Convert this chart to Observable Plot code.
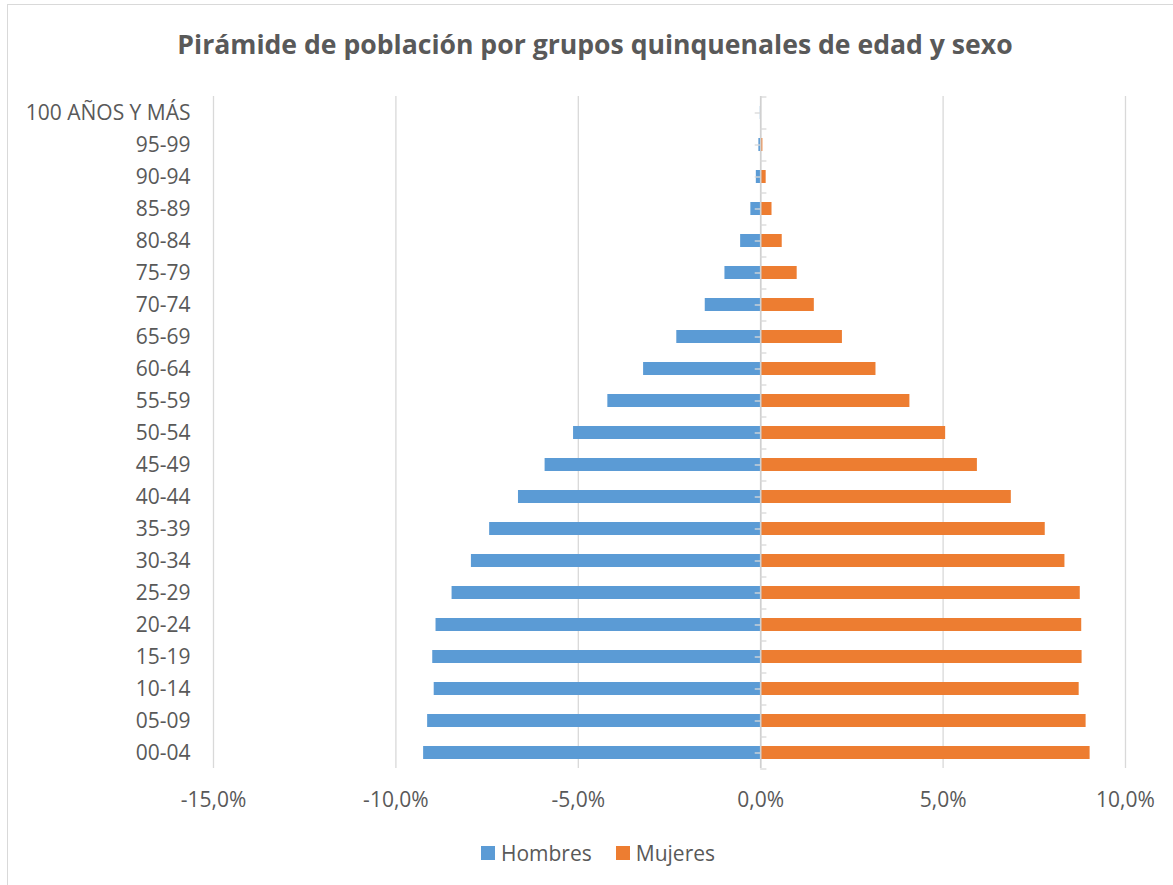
<!DOCTYPE html>
<html>
<head>
<meta charset="utf-8">
<script src="https://cdn.jsdelivr.net/npm/d3@7"></script>
<script src="https://cdn.jsdelivr.net/npm/@observablehq/plot@0.6"></script>
<style>
  html, body { margin: 0; padding: 0; background: #fff; overflow: hidden; }
  #wrap { position: relative; width: 1173px; height: 885px; font-family: "Open Sans", sans-serif; color: #595959; }
  #border { position: absolute; left: 7px; top: 4px; width: 1200px; height: 920px; border: 1px solid #D9D9D9; box-sizing: border-box; }
  #title { position: absolute; left: 0; width: 1190px; top: 31px; text-align: center; font-weight: 700; font-size: 26.6px; line-height: 26px; white-space: nowrap; }
  #chart { position: absolute; left: 0; top: 80px; }
  #legend { position: absolute; left: 0; width: 1196px; top: 841px; display: flex; justify-content: center; align-items: center; font-size: 21px; line-height: 24px; }
  .item { display: flex; align-items: center; margin: 0 12px; }
  .sw { width: 14px; height: 14px; margin-right: 6px; }
</style>
</head>
<body>
<div id="wrap">
  <div id="border"></div>
  <div id="title">Pirámide de población por grupos quinquenales de edad y sexo</div>
  <div id="chart"></div>
  <div id="legend"></div>
</div>
<script>
const ages = ["100 AÑOS Y MÁS","95-99","90-94","85-89","80-84","75-79","70-74","65-69","60-64","55-59","50-54","45-49","40-44","35-39","30-34","25-29","20-24","15-19","10-14","05-09","00-04"];
const hombres = [0.01, 0.05, 0.12, 0.27, 0.55, 0.98, 1.52, 2.30, 3.21, 4.19, 5.13, 5.91, 6.64, 7.43, 7.93, 8.46, 8.90, 8.99, 8.95, 9.13, 9.24];
const mujeres = [0.01, 0.06, 0.15, 0.31, 0.59, 1.00, 1.47, 2.24, 3.16, 4.09, 5.07, 5.94, 6.87, 7.80, 8.34, 8.76, 8.80, 8.81, 8.73, 8.92, 9.03];
const xTicks = [-15, -10, -5, 0, 5, 10];
const series = ["Hombres", "Mujeres"];
const colors = ["#5B9BD5", "#ED7D31"];

const data = ages.flatMap((a, i) => [
  {age: a, sexo: "Hombres", v: -hombres[i]},
  {age: a, sexo: "Mujeres", v: mujeres[i]}
]);

const fmt = d => d.toFixed(1).replace(".", ",") + "%";

const chart = Plot.plot({
  width: 1173,
  height: 740,
  marginTop: 16,
  marginBottom: 52,
  marginLeft: 213,
  marginRight: 48,
  style: {fontFamily: "Open Sans", fontSize: "21px", color: "#595959", background: "transparent"},
  x: {domain: [-15, 10], ticks: xTicks, label: null},
  y: {domain: ages, paddingInner: 0.6, paddingOuter: 0.3, label: null},
  color: {domain: series, range: colors},
  marks: [
    Plot.gridX(xTicks, {stroke: "#D9D9D9", strokeOpacity: 1, strokeWidth: 1.3}),
    Plot.barX(data, {x1: 0, x2: "v", y: "age", fill: "sexo"}),
    Plot.ruleX([0], {stroke: "#D0D0D0", strokeWidth: 1.6}),
    Plot.ruleY(ages, {y: d => d, x1: 0, x2: 0.17, dy: -16, stroke: "#D9D9D9", strokeWidth: 1.3}),
    Plot.ruleY(ages.slice(-1), {y: d => d, x1: 0, x2: 0.17, dy: 16, stroke: "#D9D9D9", strokeWidth: 1.3}),
    Plot.ruleY(ages, {y: d => d, x1: -0.15, x2: 0, stroke: "#D9D9D9", strokeWidth: 1.3}),
    Plot.axisX({ticks: xTicks, tickSize: 0, tickPadding: 24, tickFormat: fmt, fontSize: 21, fill: "#595959", label: null}),
    Plot.axisY({tickSize: 0, tickPadding: 23, fontSize: 21, fill: "#595959", label: null})
  ]
});
document.getElementById("chart").appendChild(chart);

const legend = document.getElementById("legend");
series.forEach((s, i) => {
  const item = document.createElement("div");
  item.className = "item";
  const sw = document.createElement("div");
  sw.className = "sw";
  sw.style.background = colors[i];
  const t = document.createElement("span");
  t.textContent = s;
  item.appendChild(sw);
  item.appendChild(t);
  legend.appendChild(item);
});
</script>
</body>
</html>
